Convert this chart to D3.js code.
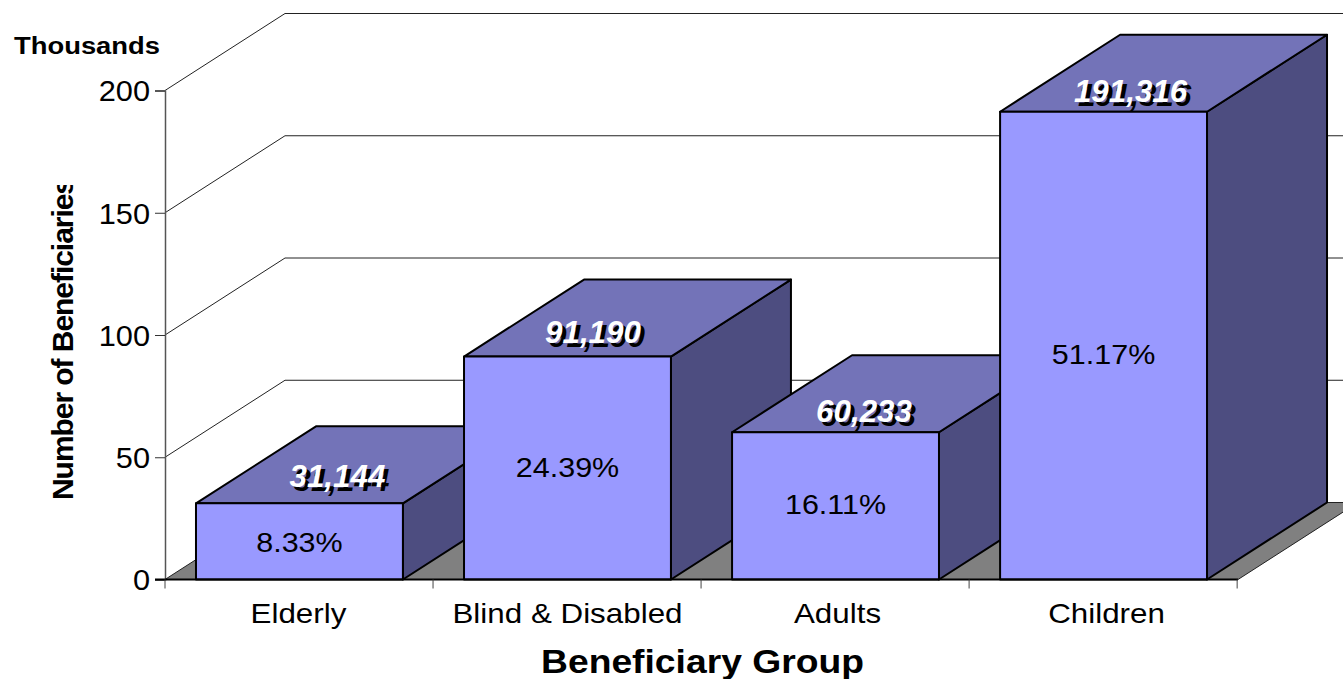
<!DOCTYPE html>
<html>
<head>
<meta charset="utf-8">
<script src="https://cdn.jsdelivr.net/npm/d3@7"></script>
<style>
  html, body { margin: 0; padding: 0; background: #fff; overflow: hidden; }
  svg { display: block; }
  text { font-family: "Liberation Sans", Arial, sans-serif; fill: #000; }
</style>
</head>
<body>
<svg id="chart" width="1343" height="679"></svg>
<script>
const groups = ['Elderly', 'Blind & Disabled', 'Adults', 'Children'];
const beneficiaries = [31144, 91190, 60233, 191316];
const shares = ['8.33%', '24.39%', '16.11%', '51.17%'];
const yTicks = [0, 50, 100, 150, 200];

const svg = d3.select('#chart');

// fake 3D depth, same for the walls and the bars
const depthX = 120;
const depthY = -77;

let x = d3.scaleBand().domain(groups).range([165, 1238]).paddingInner(0.228).paddingOuter(0.1156);
let y = d3.scaleLinear().domain([0, 200]).range([579.5, 90.5]);

// gridlines on the back wall
yTicks.slice(1).forEach((t) => {
  svg.append('path')
    .attr('d', d3.line()([[165, y(t)], [165 + depthX, y(t) + depthY], [1238 + depthX, y(t) + depthY]]))
    .attr('fill', 'none')
    .attr('stroke', '#222')
    .attr('stroke-width', 1);
});

// floor
svg.append('path')
  .attr('d', d3.line()([[165, y(0)], [165 + depthX, y(0) + depthY], [1238 + depthX, y(0) + depthY], [1238, y(0)]]) + 'Z')
  .attr('fill', '#808080')
  .attr('stroke', '#222')
  .attr('stroke-width', 1);

// bars: side, top, front
groups.forEach((g, i) => {
  let x0 = x(g);
  let x1 = x0 + x.bandwidth();
  let yTop = y(beneficiaries[i] / 1000);
  let yBase = y(0);
  let bar = svg.append('g')
    .attr('stroke', '#000')
    .attr('stroke-width', 2)
    .attr('stroke-linejoin', 'round');
  bar.append('path')
    .attr('d', d3.line()([[x1, yTop], [x1 + depthX, yTop + depthY], [x1 + depthX, yBase + depthY], [x1, yBase]]) + 'Z')
    .attr('fill', '#4d4d80');
  bar.append('path')
    .attr('d', d3.line()([[x0, yTop], [x0 + depthX, yTop + depthY], [x1 + depthX, yTop + depthY], [x1, yTop]]) + 'Z')
    .attr('fill', '#7373b8');
  bar.append('rect')
    .attr('x', x0)
    .attr('y', yTop)
    .attr('width', x1 - x0)
    .attr('height', yBase - yTop)
    .attr('fill', '#9999ff');
});

// y axis
let yAxis = svg.append('g')
  .attr('transform', 'translate(165,0)')
  .call(d3.axisLeft(y).tickValues(yTicks).tickSize(10).tickPadding(0));
yAxis.select('.domain').attr('stroke', '#555').attr('stroke-width', 1.5);
yAxis.selectAll('line').attr('stroke', '#333');
yAxis.selectAll('text')
  .style('font-size', '29px')
  .attr('x', -15 / 1.06)
  .attr('dy', '0.36em')
  .attr('transform', 'scale(1.06,1)');

// x axis: labels from the band centres, ticks on the band edges
let xAxis = svg.append('g')
  .attr('transform', `translate(0,${y(0)})`)
  .call(d3.axisBottom(x).tickSize(0).tickPadding(0));
xAxis.select('.domain').remove();
xAxis.selectAll('text')
  .style('font-size', '28px')
  .attr('y', 44)
  .attr('dy', 0)
  .attr('transform', 'scale(1.12,1)');
// the original labels drift a little to the right
const labelShift = [-1, 0, 2, 3];
xAxis.selectAll('.tick').attr('transform', (d, i) => `translate(${x(d) + x.bandwidth() / 2 + labelShift[i]},0)`);

svg.append('line')
  .attr('x1', 155).attr('x2', 1238)
  .attr('y1', y(0)).attr('y2', y(0))
  .attr('stroke', '#000').attr('stroke-width', 2);

d3.range(groups.length + 1).forEach((i) => {
  let tx = 165 + i * x.step();
  svg.append('line')
    .attr('x1', tx).attr('x2', tx)
    .attr('y1', y(0)).attr('y2', y(0) + 9)
    .attr('stroke', '#444').attr('stroke-width', 1);
});

// labels on the bars, the original placed each one by hand
const valueShift = [[38, -16], [25.5, -14], [28.5, -10], [27, -10]];
const shareShift = [11, 8.5, 8, 18];

groups.forEach((g, i) => {
  let cx = x(g) + x.bandwidth() / 2;
  let yTop = y(beneficiaries[i] / 1000);
  let label = d3.format(',')(beneficiaries[i]);
  [['#000', 4, 4], ['#fff', 0, 0]].forEach(([color, ox, oy]) => {
    svg.append('text')
      .attr('transform', `translate(${cx + valueShift[i][0] + ox},${yTop + valueShift[i][1] + oy}) scale(0.98,1)`)
      .attr('text-anchor', 'middle')
      .style('font-size', '32px')
      .style('font-weight', 'bold')
      .style('font-style', 'italic')
      .style('fill', color)
      .text(label);
  });
  svg.append('text')
    .attr('transform', `translate(${cx},${(yTop + y(0)) / 2 + shareShift[i]}) scale(1.09,1)`)
    .attr('text-anchor', 'middle')
    .style('font-size', '28px')
    .text(shares[i]);
});

// titles
svg.append('text')
  .attr('x', 14).attr('y', 54)
  .attr('textLength', 146)
  .attr('lengthAdjust', 'spacingAndGlyphs')
  .style('font-size', '23px')
  .style('font-weight', 'bold')
  .text('Thousands');

svg.append('text')
  .attr('x', 541).attr('y', 673)
  .attr('textLength', 323)
  .attr('lengthAdjust', 'spacingAndGlyphs')
  .style('font-size', '33px')
  .style('font-weight', 'bold')
  .text('Beneficiary Group');

// the last letter is cut off in the original
svg.append('clipPath')
  .attr('id', 'title-clip')
  .append('rect')
  .attr('x', 30).attr('y', 185).attr('width', 60).attr('height', 330);

svg.append('g')
  .attr('clip-path', 'url(#title-clip)')
  .append('text')
  .attr('transform', 'translate(73,500) rotate(-90)')
  .style('font-size', '30px')
  .style('font-weight', 'bold')
  .style('letter-spacing', '-1.05px')
  .text('Number of Beneficiaries');
</script>
</body>
</html>
